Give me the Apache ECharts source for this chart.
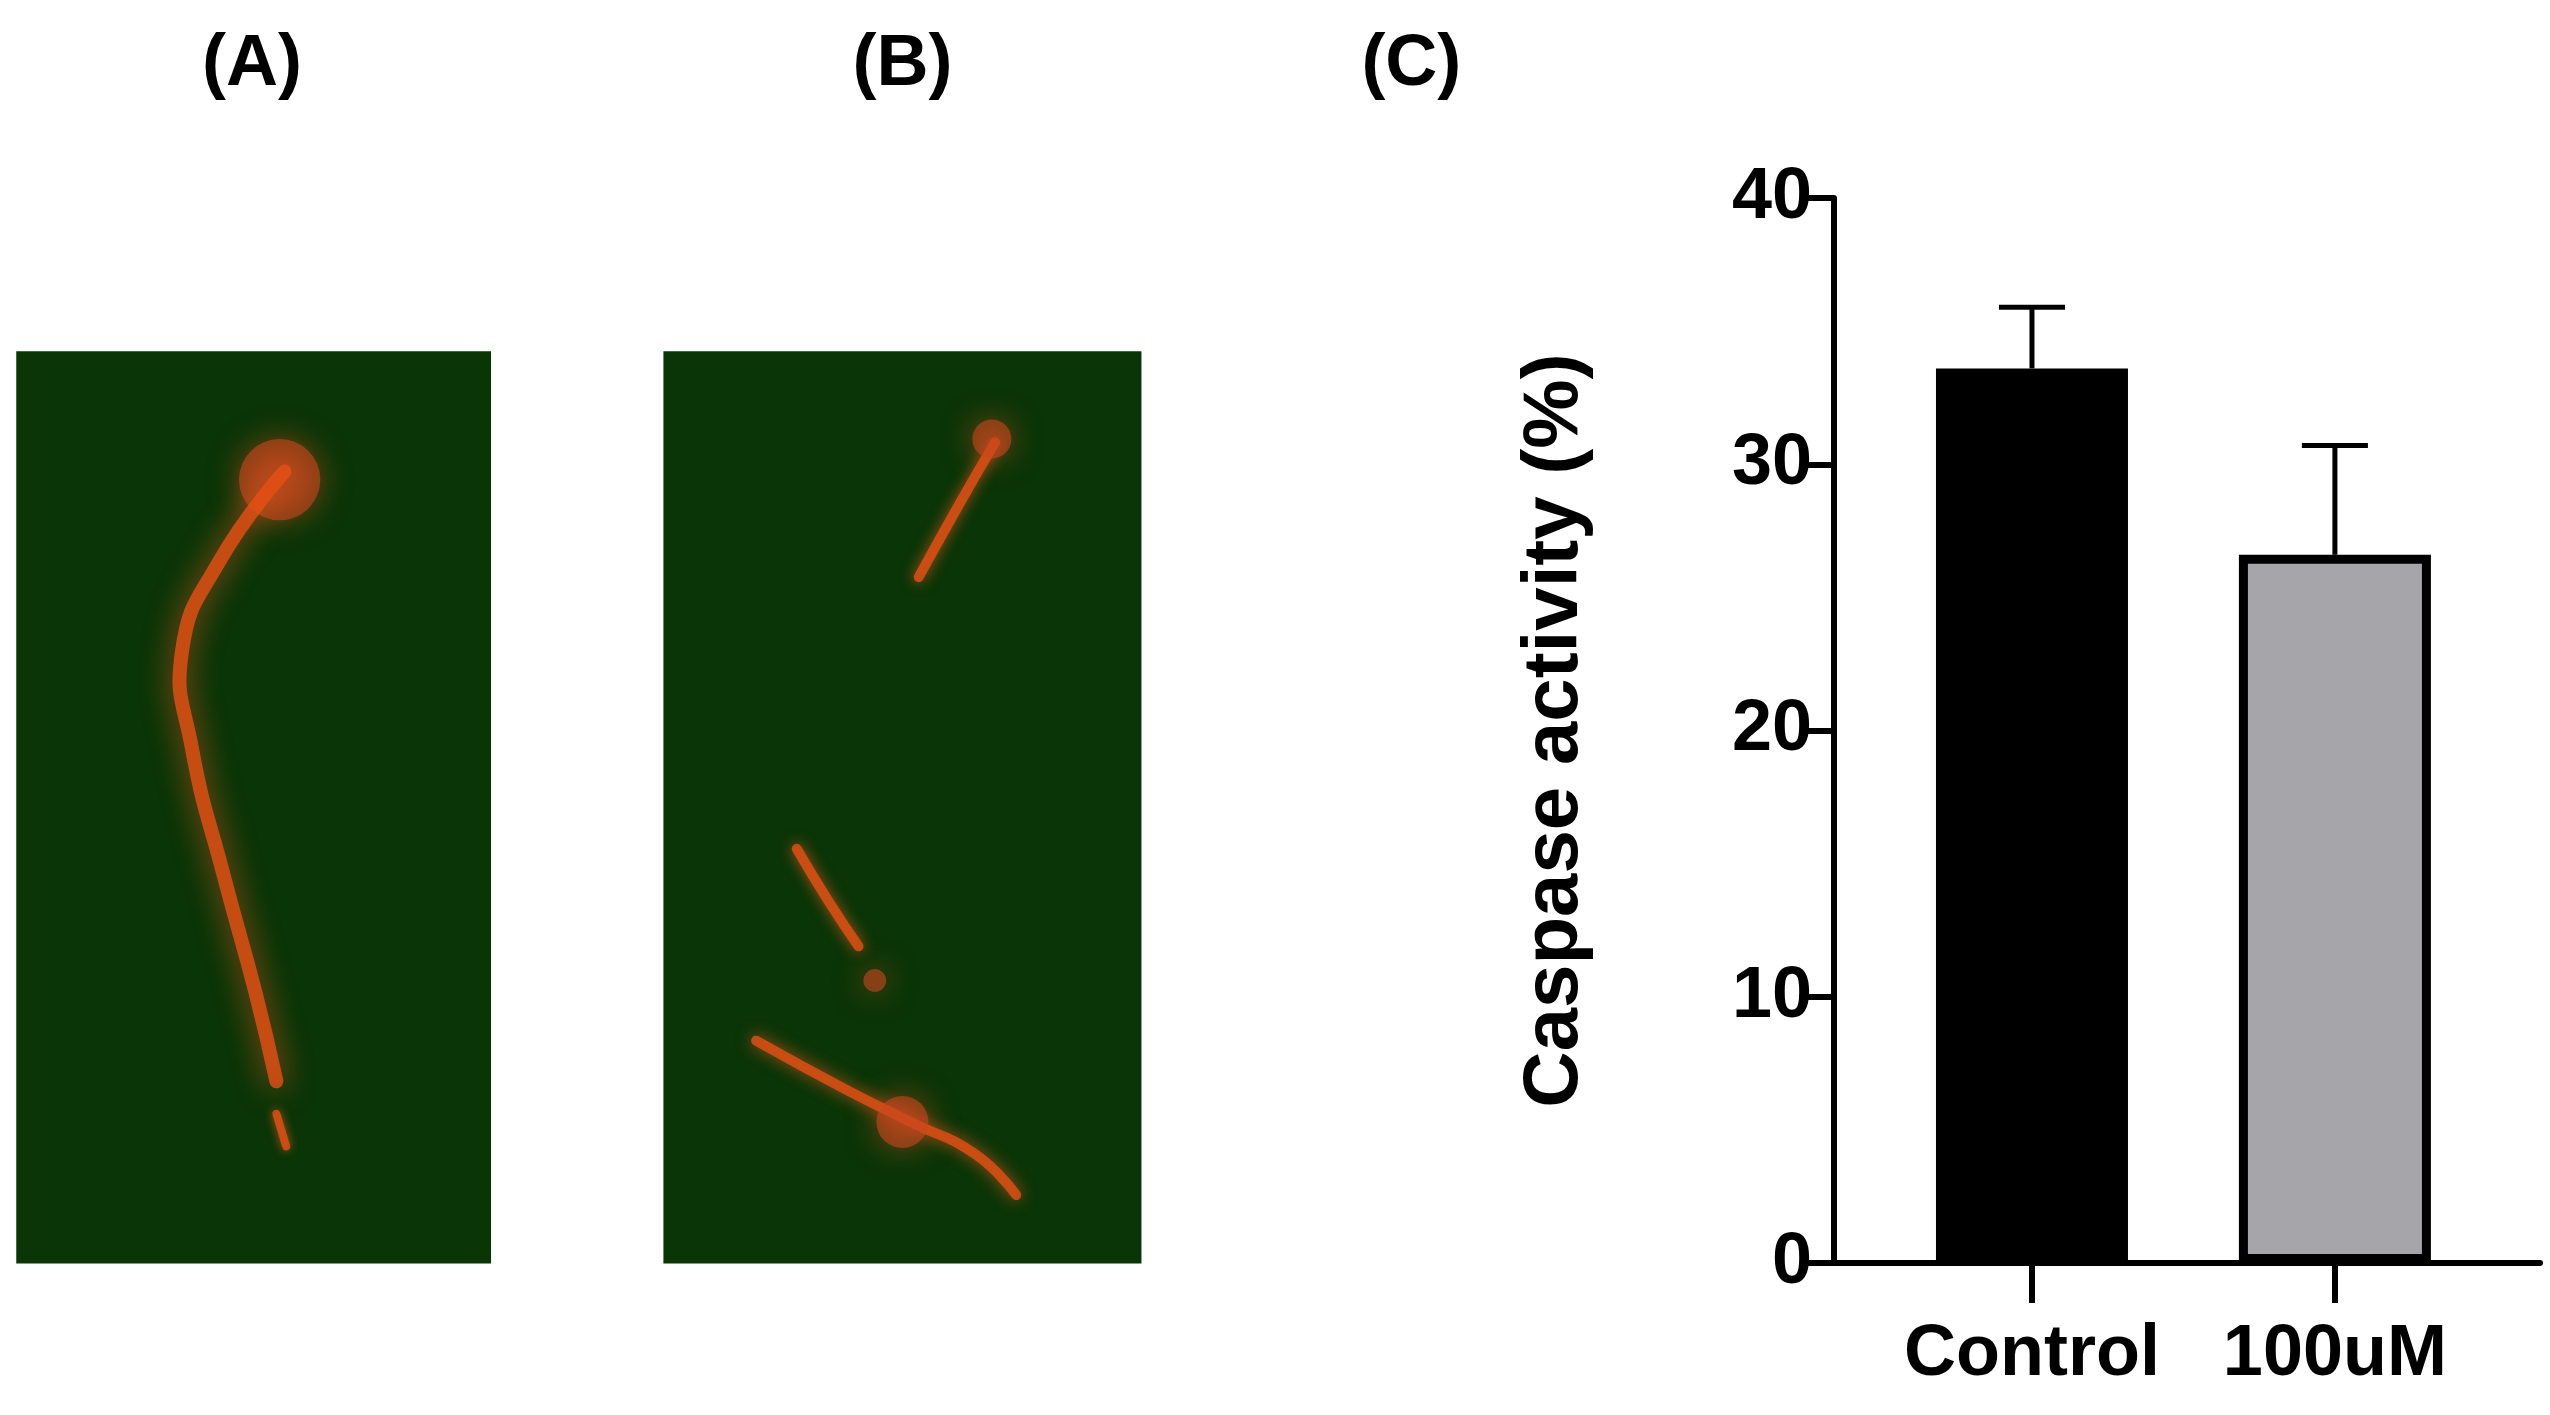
<!DOCTYPE html><html><head><meta charset="utf-8"><script src="https://cdn.jsdelivr.net/npm/echarts@6/dist/echarts.min.js"></script>
<style>html,body{margin:0;background:#fff}#c{width:2550px;height:1415px}</style></head><body><div id="c"></div><script>
const categories=['Control','100uM'];
const means=[33.6,26.6];
const errTops=[35.9,30.7];
const yTicks=[0,10,20,30,40];
const S=1.626;
function P(pts){return pts.map(p=>[p[0]*S,p[1]*S]);}
function cell(pts,w,blur){return {type:'polyline',shape:{points:P(pts),smooth:0.5},style:{stroke:'rgba(230,80,20,0.8)',lineWidth:w,fill:null,lineCap:'round',shadowBlur:blur,shadowColor:'rgba(240,90,30,0.9)'}};}
function blob(x,y,r){return {type:'circle',shape:{cx:x*S,cy:y*S,r:r*S},style:{fill:'rgba(200,70,30,0.6)',shadowBlur:30,shadowColor:'rgba(220,80,30,0.9)'}};}
const chart=echarts.init(document.getElementById('c'));
chart.setOption({
 animation:false,
 graphic:[
  {type:'rect',shape:{x:10*S,y:216*S,width:292*S,height:561*S},style:{fill:'#0a3507'}},
  {type:'rect',shape:{x:408*S,y:216*S,width:294*S,height:561*S},style:{fill:'#0a3507'}},
  blob(172,295,25),
  cell([[175,290],[135,345],[112,400],[118,460],[138,540],[157,610],[170,665]],14,30),
  cell([[170,685],[176,705]],8,10),
  cell([[612,272],[590,310],[565,355]],10,14),blob(610,270,12),
  cell([[490,522],[510,555],[528,582]],10,14),blob(538,603,7),
  cell([[465,640],[520,670],[560,690],[600,710],[625,735]],10,16),blob(555,690,16),
  {type:'text',style:{text:'(A)',x:155*S,y:40*S,align:'center',verticalAlign:'middle',font:'bold 72px "Liberation Sans"',fill:'#000'}},
  {type:'text',style:{text:'(B)',x:555*S,y:40*S,align:'center',verticalAlign:'middle',font:'bold 72px "Liberation Sans"',fill:'#000'}},
  {type:'text',style:{text:'(C)',x:868*S,y:40*S,align:'center',verticalAlign:'middle',font:'bold 72px "Liberation Sans"',fill:'#000'}}
 ],
 grid:{left:1834,right:10,top:198,bottom:152,containLabel:false},
 xAxis:{type:'value',min:0.3465,max:2.677,
  axisLine:{show:true,onZero:false,lineStyle:{color:'#000',width:6}},
  axisTick:{show:true,customValues:[1,2],length:40,lineStyle:{color:'#000',width:6}},
  axisLabel:{customValues:[1,2],formatter:v=>categories[Math.round(v)-1]||'',color:'#000',fontSize:72,fontWeight:'bold',fontFamily:'Liberation Sans',margin:56},
  splitLine:{show:false}},
 yAxis:{type:'value',min:0,max:40,interval:10,
  name:'Caspase activity (%)',nameLocation:'middle',nameGap:240,nameTextStyle:{color:'#000',fontSize:78,fontWeight:'bold',fontFamily:'Liberation Sans'},
  axisLine:{show:true,lineStyle:{color:'#000',width:6}},
  axisTick:{show:true,length:28,lineStyle:{color:'#000',width:6}},
  axisLabel:{color:'#000',fontSize:72,fontWeight:'bold',fontFamily:'Liberation Sans',margin:22},
  splitLine:{show:false}},
 series:[
  {type:'custom',z:1,data:means.map((m,i)=>[i+1,m,errTops[i]]),
   renderItem:(p,api)=>{const x=api.value(0);const a=api.coord([x,api.value(1)]);const b=api.coord([x,api.value(2)]);
    return {type:'group',children:[
     {type:'line',shape:{x1:a[0],y1:a[1],x2:b[0],y2:b[1]},style:{stroke:'#000',lineWidth:5}},
     {type:'line',shape:{x1:b[0]-33,y1:b[1],x2:b[0]+33,y2:b[1]},style:{stroke:'#000',lineWidth:5}}]};}},
  {type:'bar',z:2,barWidth:192,data:means.map((m,i)=>({value:[i+1,m],itemStyle:{color:i?'#a6a5aa':'#000',borderColor:'#000',borderWidth:9}}))}
 ]
});
</script></body></html>
